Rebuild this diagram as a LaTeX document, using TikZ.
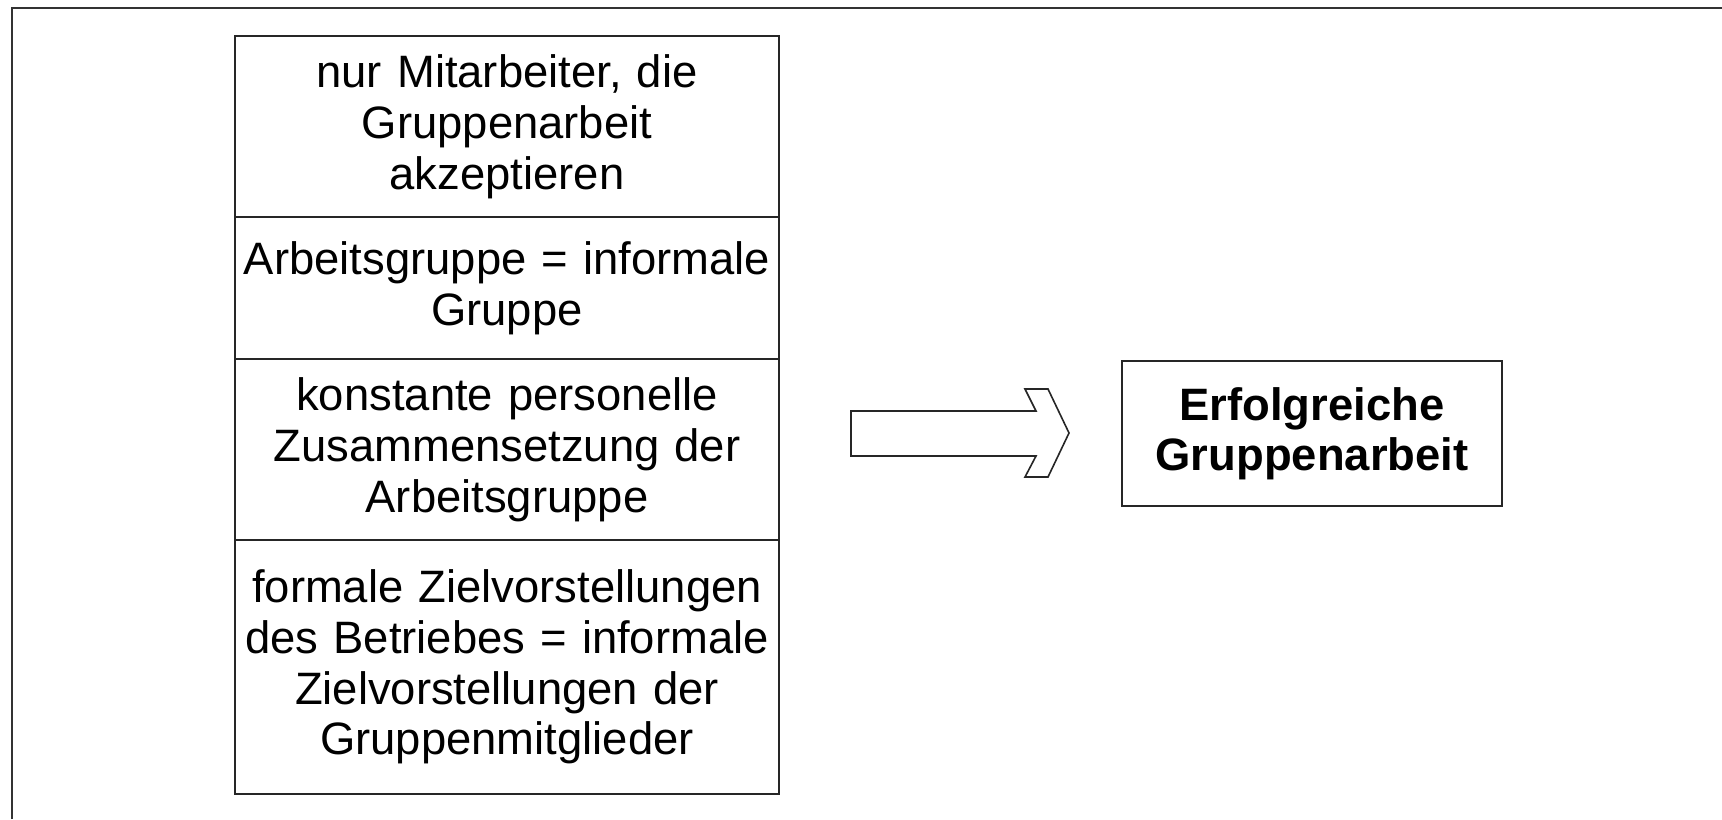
\documentclass[tikz,border=0pt]{standalone}
\usepackage{fontspec}
\setmainfont{Liberation Sans}
\begin{document}
\begin{tikzpicture}[x=0.5pt,y=-0.5pt,
  frameline/.style={draw=black!80,line width=0.8pt},
  cell/.style={draw=black!85,line width=0.7pt,inner sep=0pt,text width=272pt,align=center,
    font=\fontsize{22.7pt}{25.4pt}\selectfont},
  result/.style={draw=black!85,line width=0.7pt,inner sep=0pt,minimum width=190pt,minimum height=72.5pt,
    align=center,font=\fontsize{22.7pt}{25pt}\selectfont\bfseries},
  blockarrow/.style={draw=black!85,line width=0.8pt,fill=white,line join=miter}]
\useasboundingbox (0,0) rectangle (1722,819);
% open frame running off the right and bottom edges
\draw[frameline] (12,819) -- (12,8) -- (1722,8);
% stack of conditions
\node[cell,minimum height=90.5pt] (c1) at (507,126.5) {nur Mitarbeiter, die\\Gruppenarbeit\\akzeptieren};
\node[cell,minimum height=71pt] (c2) at (507,288) {Arbeitsgruppe = informale\\Gruppe};
\node[cell,minimum height=90.5pt] (c3) at (507,449.5) {konstante personelle\\Zusammensetzung der\\Arbeitsgruppe};
\node[cell,minimum height=127pt] (c4) at (507,667) {formale Zielvorstellungen\\des Betriebes = informale\\Zielvorstellungen der\\Gruppenmitglieder};
% outcome
\node[result] (res) at (1312,433.5) {Erfolgreiche\\Gruppenarbeit};
% notched block arrow
\draw[blockarrow] (851,411) -- (1036,411) -- (1025,389) -- (1048,389) -- (1069,433)
  -- (1048,477) -- (1025,477) -- (1036,456) -- (851,456) -- cycle;
\end{tikzpicture}
\end{document}
